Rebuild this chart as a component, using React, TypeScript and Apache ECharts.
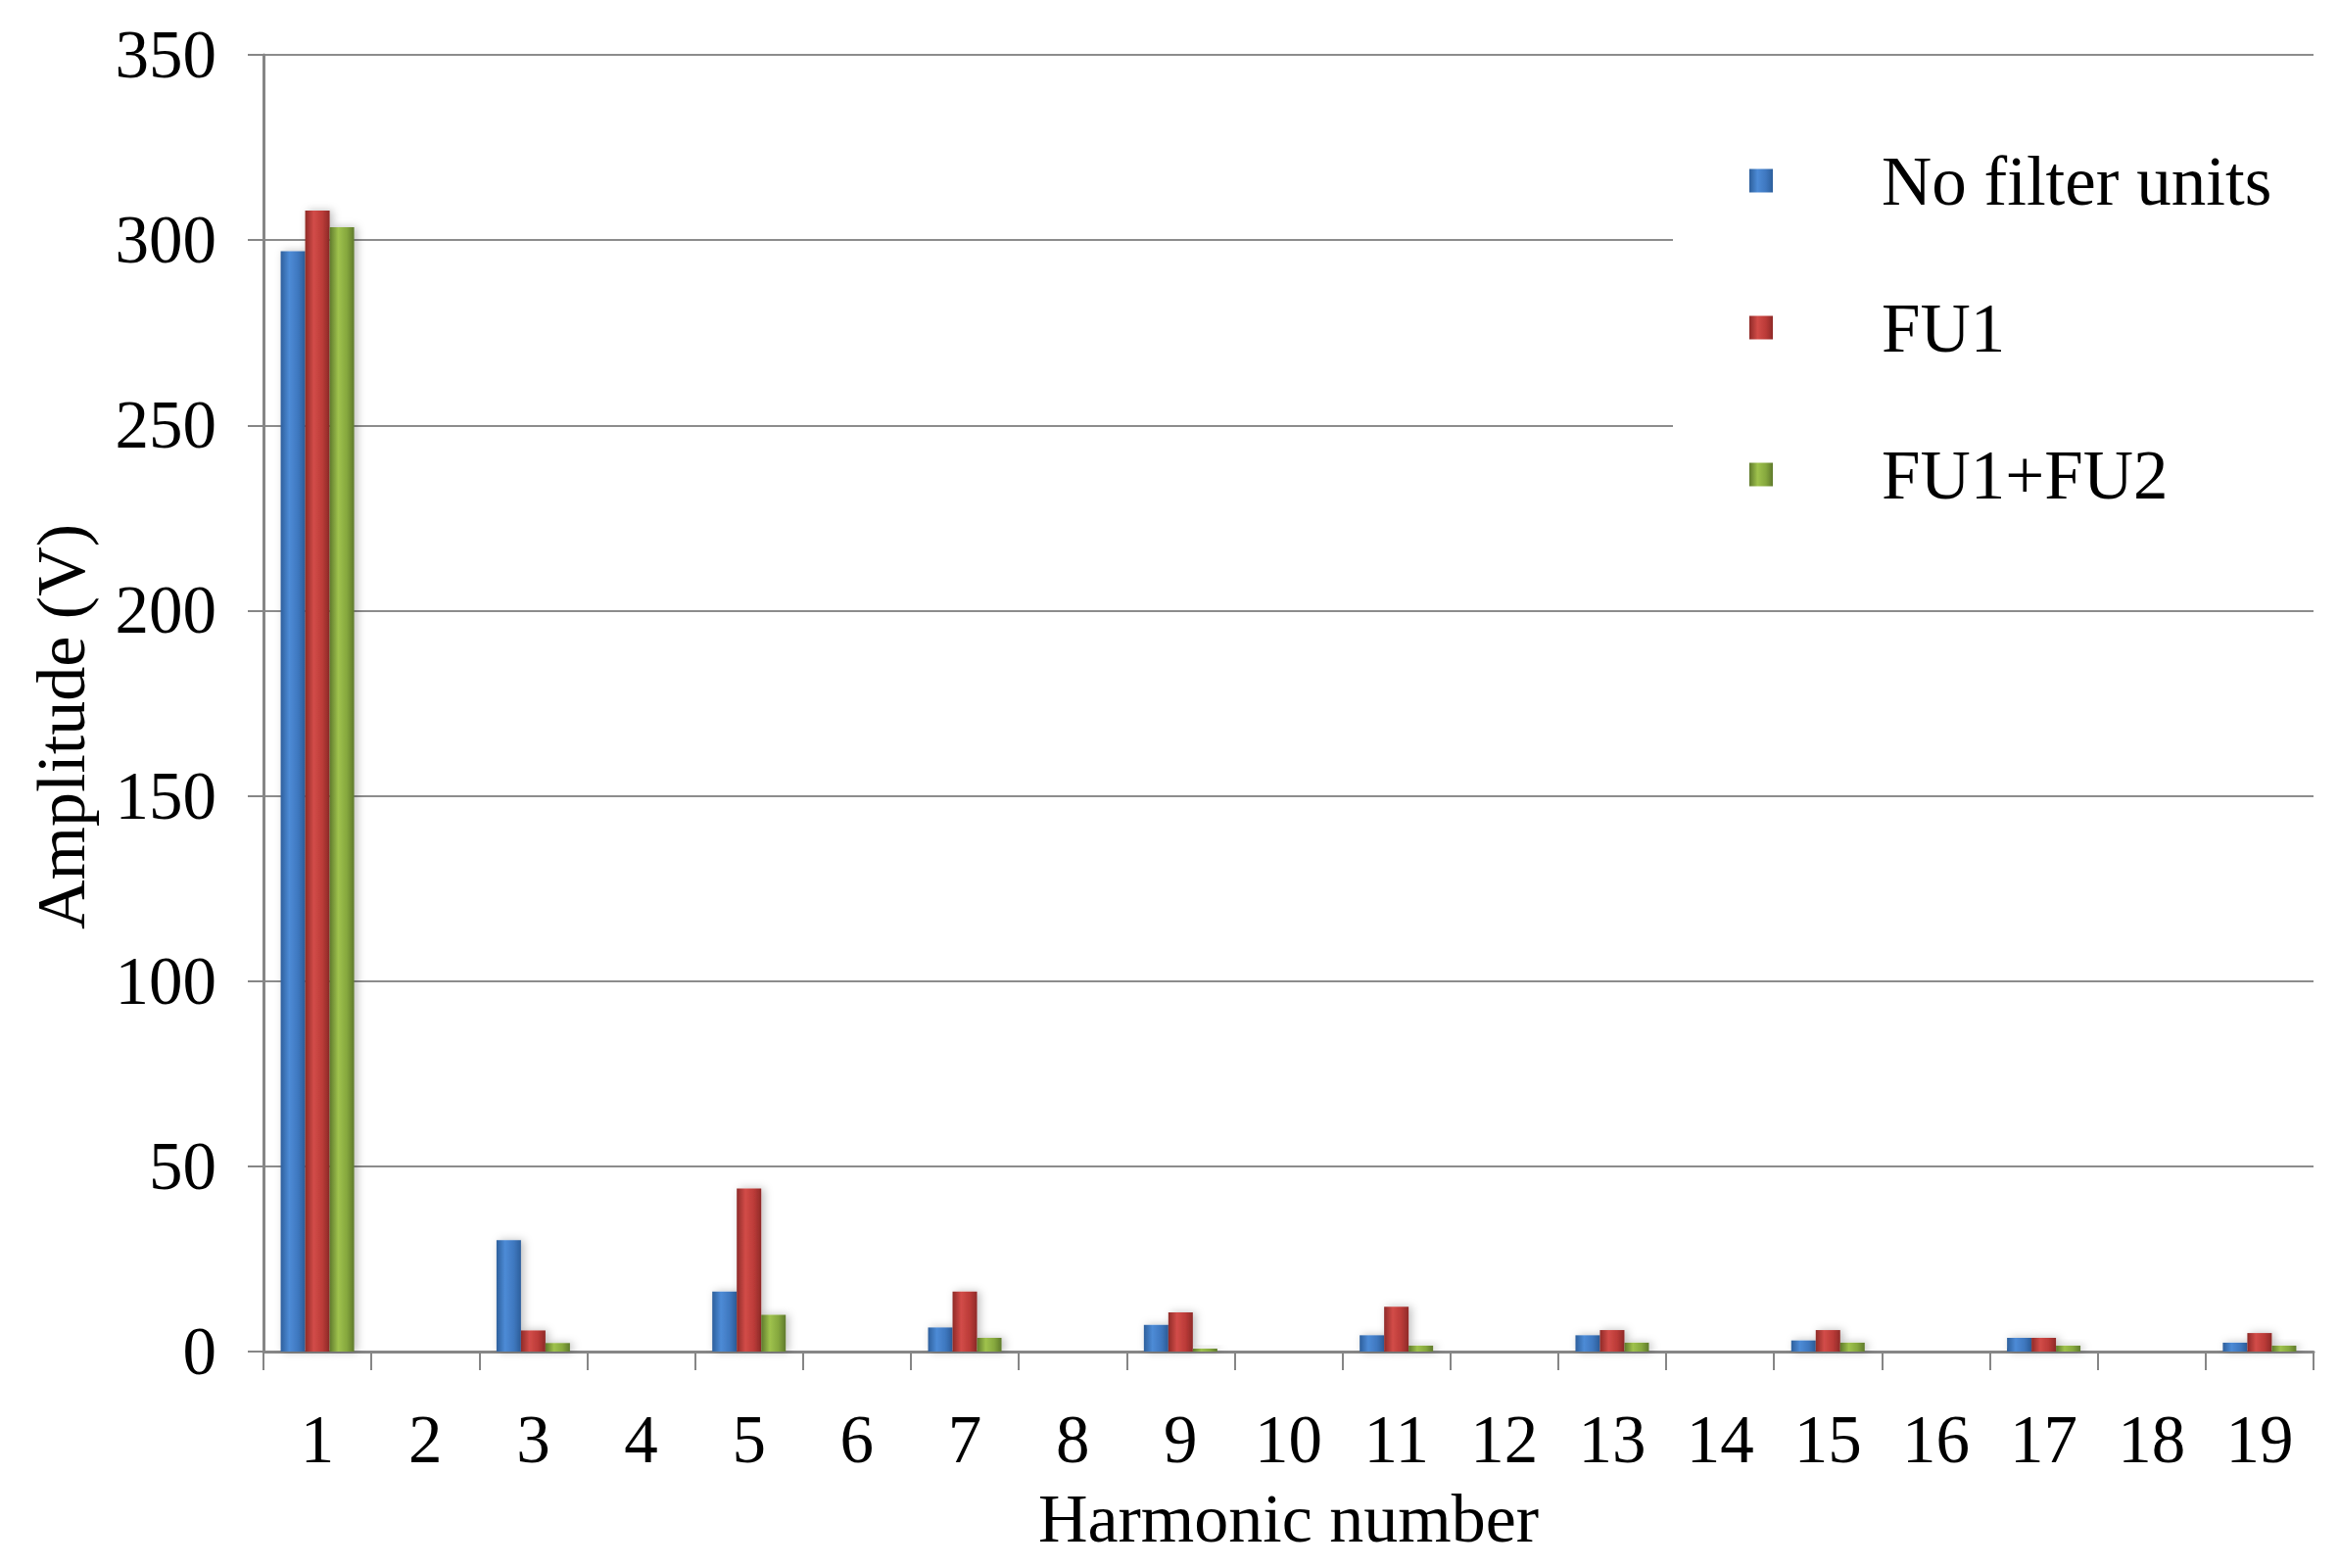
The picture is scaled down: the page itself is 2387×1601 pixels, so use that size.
import React, { useEffect, useRef } from "react";
import * as echarts from "echarts";

const harmonics = ["1","2","3","4","5","6","7","8","9","10","11","12","13","14","15","16","17","18","19"];
const noFilterUnits = [297, null, 30.1, null, 16.2, null, 6.5, null, 7.2, null, 4.4, null, 4.4, null, 3.0, null, 3.7, null, 2.4];
const fu1 = [308, null, 5.7, null, 44, null, 16.2, null, 10.6, null, 12.1, null, 5.8, null, 5.8, null, 3.7, null, 5.0];
const fu1fu2 = [303.5, null, 2.3, null, 9.9, null, 3.7, null, 0.8, null, 1.6, null, 2.4, null, 2.4, null, 1.6, null, 1.6];
const yTicks = { min: 0, max: 350, interval: 50 };

const FONT = "'Liberation Serif', 'Times New Roman', serif";

function grad(dark: string, mid: string, light: string) {
  return new echarts.graphic.LinearGradient(0, 0, 1, 0, [
    { offset: 0, color: dark },
    { offset: 0.35, color: light },
    { offset: 0.7, color: mid },
    { offset: 1, color: dark },
  ]);
}

export default function App() {
  const ref = useRef<HTMLDivElement>(null);
  useEffect(() => {
    if (!ref.current) return;
    const chart = echarts.init(ref.current, undefined, { renderer: "svg" });
    const barBase = {
      type: "bar" as const,
      barWidth: 25,
      barGap: "0%",
    };
    chart.setOption({
      animation: false,
      backgroundColor: "#ffffff",
      textStyle: { fontFamily: FONT },
      grid: { left: 261, right: 17, top: 48, bottom: 213, containLabel: false },
      legend: {
        orient: "vertical",
        left: 1700,
        top: 111,
        width: 700,
        backgroundColor: "#ffffff",
        padding: [30, 60, 30, 78],
        itemWidth: 24,
        itemHeight: 24,
        itemGap: 79,
        icon: "rect",
        textStyle: { fontFamily: FONT, fontSize: 71, color: "#000", padding: [0, 0, 0, 106] },
        data: ["No filter units", "FU1", "FU1+FU2"],
      },
      xAxis: {
        type: "category",
        data: harmonics,
        name: "Harmonic number",
        nameLocation: "middle",
        nameGap: 135,
        nameTextStyle: { fontFamily: FONT, fontSize: 70, color: "#000" },
        axisLine: { lineStyle: { color: "#868686", width: 3 } },
        axisTick: { show: true, length: 19, lineStyle: { color: "#868686", width: 2 } },
        axisLabel: { fontFamily: FONT, fontSize: 69, color: "#000", margin: 55 },
      },
      yAxis: {
        type: "value",
        min: yTicks.min,
        max: yTicks.max,
        interval: yTicks.interval,
        name: "Amplitude (V)",
        nameLocation: "middle",
        nameGap: 172,
        nameTextStyle: { fontFamily: FONT, fontSize: 70, color: "#000", padding: [0, 48, 0, 0] },
        axisLine: { show: true, lineStyle: { color: "#868686", width: 3 } },
        axisTick: { show: true, length: 16, lineStyle: { color: "#868686", width: 2 } },
        axisLabel: { fontFamily: FONT, fontSize: 69, color: "#000", margin: 48 },
        splitLine: { show: true, lineStyle: { color: "#8c8c8c", width: 2 } },
      },
      series: [
        {
          ...barBase,
          name: "No filter units",
          data: noFilterUnits,
          itemStyle: {
            color: grad("#2d5f9c", "#3f78c0", "#4d8bd6"),
            shadowColor: "rgba(0,0,0,0.25)",
            shadowBlur: 8,
            shadowOffsetX: 3,
          },
        },
        {
          ...barBase,
          name: "FU1",
          data: fu1,
          itemStyle: {
            color: grad("#8f2a28", "#bb3b38", "#d24c48"),
            shadowColor: "rgba(0,0,0,0.25)",
            shadowBlur: 8,
            shadowOffsetX: 3,
          },
        },
        {
          ...barBase,
          name: "FU1+FU2",
          data: fu1fu2,
          itemStyle: {
            color: grad("#5f7a2c", "#86a83e", "#9fc24d"),
            shadowColor: "rgba(0,0,0,0.25)",
            shadowBlur: 8,
            shadowOffsetX: 3,
          },
        },
      ],
    });
    return () => chart.dispose();
  }, []);
  return <div ref={ref} style={{ width: 2371, height: 1585 }} />;
}
